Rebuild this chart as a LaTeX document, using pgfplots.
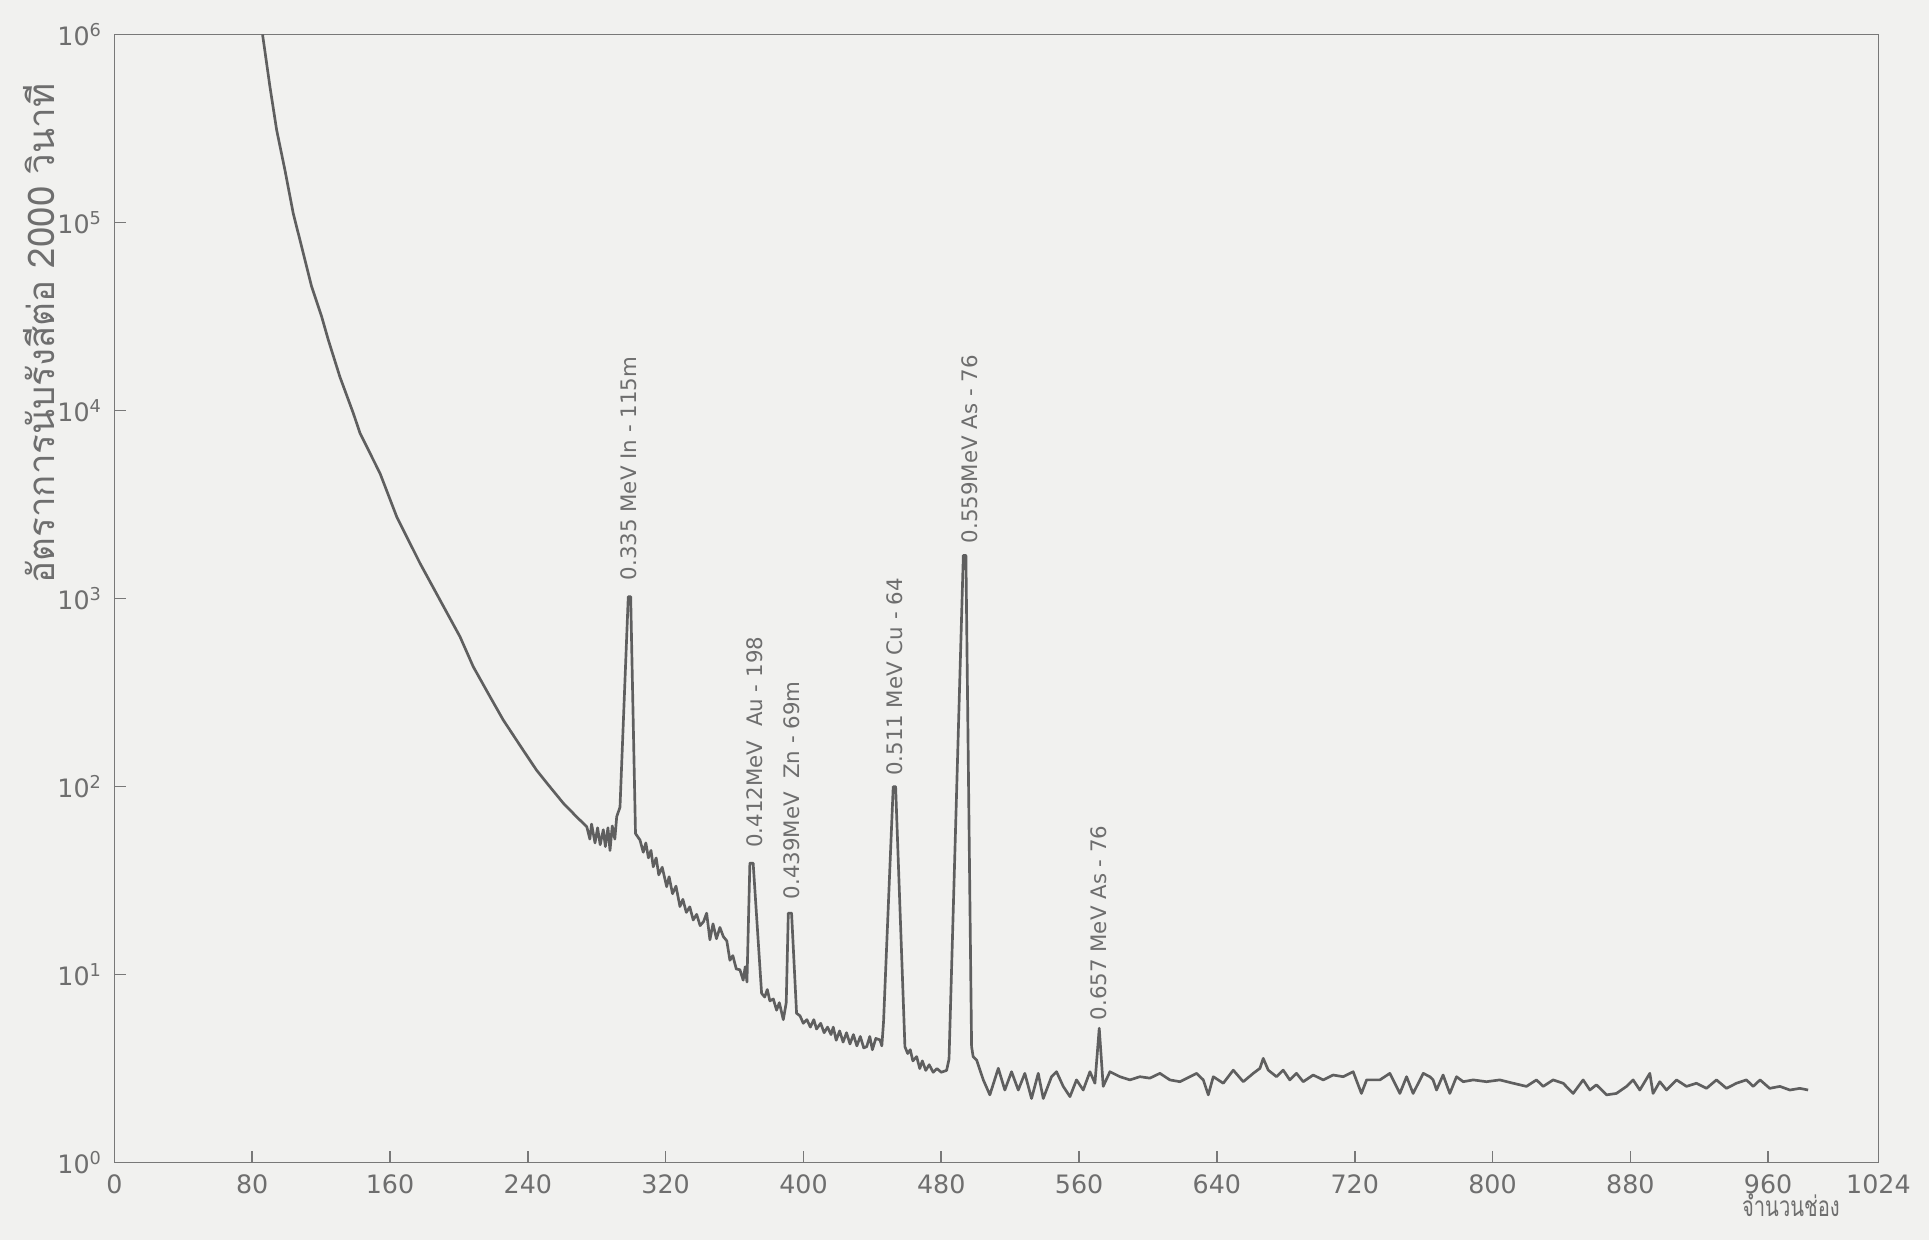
\documentclass[border=0pt]{standalone}
\usepackage{pgfplots}
\pgfplotsset{compat=1.18}
\usepackage{pgfplotstable}
\usepackage{graphicx}
\usepackage{fontspec}
\setmainfont{DejaVu Sans}
\newfontfamily\thaifont[Script=Thai]{Loma}
\definecolor{paper}{RGB}{241,241,239}
\definecolor{ink}{RGB}{95,95,95}
\definecolor{axisink}{RGB}{120,120,120}
\definecolor{textink}{RGB}{110,110,110}

\pgfplotstableread{
ch cnt
86 1000000
90.3 527000
94.2 310000
99.0 190000
103.8 112000
108.7 74300
114.5 45600
120.3 31600
124.2 23700
130.9 15100
138.7 9660
142.6 7570
154.2 4630
163.9 2720
177.4 1540
189.0 982
200.6 627
208.3 434
218.0 301
225.7 226
237.3 156
245.1 122
251.9 102
260.6 81.5
268.3 69.0
274.2 61.1
276 52.5
277 63.1
279 50.1
280.5 60.3
282 49.0
283.8 58.9
285 47.9
286.5 60.3
287.7 45.7
289 61.7
290.5 52.5
291.6 69.2
293.5 77.6
298.3 1023
299.7 1023
302.5 56.2
305.1 51.9
307 44.7
308.5 50.1
310 41.7
311.5 45.7
312.8 37.4
314.5 41.7
316 33.9
318 37.2
320.6 29.3
322 33.1
324 26.9
326 29.5
328.3 23.0
330 25.1
332 21.4
334 22.9
336 19.5
338 20.9
340 18.2
342 19.1
343.8 21.2
345.7 15.3
347.5 18.6
349.5 15.5
351.5 17.8
353.5 15.9
355.5 15.1
357.3 11.9
359 12.6
361 10.7
363.1 10.6
365 9.33
366.2 11.0
367.2 9.12
368.9 39.1
370.8 39.1
375.7 7.94
377.5 7.59
379 8.32
380.5 7.24
382.5 7.41
384.4 6.46
386 7.08
388.3 5.75
390 7.08
391.2 21.2
393.1 21.2
396.0 6.22
398 6.03
399.9 5.50
402 5.75
404 5.25
406 5.75
407.6 5.13
410 5.50
412 4.90
414 5.25
416 4.79
417.3 5.25
419 4.47
421 5.01
423 4.37
425 4.90
427 4.27
429 4.79
431 4.17
433 4.68
435 4.07
436.7 4.13
438.5 4.68
440 3.98
442 4.57
444.4 4.49
445.5 4.17
446.5 5.62
452.1 99.8
453.5 99.8
458.9 4.13
460.5 3.80
462 3.98
463.5 3.47
465.7 3.66
467.5 3.16
469 3.47
471 3.09
473 3.31
475.3 3.02
477.5 3.16
480 3.02
483.1 3.09
484.5 3.55
492.8 1694
494.3 1694
497.6 4.13
498.5 3.66
500.5 3.51
504.4 2.75
508.2 2.29
513.1 3.17
516.9 2.43
520.8 3.04
524.7 2.43
528.5 2.98
532.4 2.19
536.3 2.98
539.2 2.19
544.0 2.86
546.9 3.04
550.8 2.54
554.7 2.24
558.5 2.75
562.4 2.43
566.3 3.04
569.2 2.64
571.7 5.18
574.0 2.54
577.9 3.04
583.7 2.86
589.5 2.75
595.3 2.86
601.1 2.81
606.9 2.98
612.7 2.75
618.5 2.69
624.3 2.86
628.2 2.98
632.1 2.75
635.0 2.29
637.9 2.86
643.7 2.64
649.5 3.10
655.3 2.69
661.1 2.98
665.0 3.17
666.9 3.58
669.8 3.10
674.6 2.86
678.5 3.10
682.3 2.75
686.2 2.98
690.1 2.69
695.9 2.92
701.7 2.75
707.5 2.92
713.3 2.86
719.1 3.04
723.9 2.33
726.9 2.75
734.6 2.75
740.4 2.98
746.2 2.33
750.1 2.86
753.9 2.33
759.8 2.98
763.6 2.86
765.5 2.75
767.5 2.43
771.3 2.92
775.2 2.33
779.1 2.86
783.0 2.69
788.8 2.75
796.5 2.69
804.2 2.75
812.0 2.64
819.7 2.54
825.5 2.75
829.4 2.54
835.2 2.75
841.0 2.64
846.8 2.33
852.6 2.75
856.5 2.43
860.3 2.59
866.2 2.29
871.9 2.33
877.8 2.54
881.6 2.75
885.5 2.43
891.3 2.98
893.2 2.33
897.1 2.69
901.0 2.43
906.8 2.75
912.6 2.54
918.4 2.64
924.2 2.48
930.0 2.75
935.8 2.48
941.6 2.64
947.4 2.75
951.3 2.54
955.3 2.75
960.9 2.48
966.8 2.54
972.6 2.43
978.4 2.48
983.2 2.43
}\spectrum

\begin{document}
\begin{tikzpicture}
\path[use as bounding box, fill=paper] (-34.32pt,-23.25pt) rectangle (544.38pt,348.75pt);
\begin{axis}[
  at={(0,0)}, anchor=south west,
  width=529.2pt, height=338.4pt, scale only axis,
  ymode=log,
  xmin=0, xmax=1024, ymin=1, ymax=1000000,
  xtick={0,80,160,240,320,400,480,560,640,720,800,880,960,1024},
  xticklabels={0,80,160,240,320,400,480,560,640,720,800,880,960,1024},
  ytick={1,10,100,1000,10000,100000,1000000},
  yticklabels={10\textsuperscript{0},10\textsuperscript{1},10\textsuperscript{2},10\textsuperscript{3},10\textsuperscript{4},10\textsuperscript{5},10\textsuperscript{6}},
  yminorticks=false, xminorticks=false,
  tick pos=left,
  major tick length=3.4pt,
  ticklabel style={font=\fontsize{7.6}{8}\selectfont, text=textink},
  axis line style={axisink, line width=0.5pt},
  tick style={axisink, line width=0.5pt},
  xlabel={\scalebox{0.72}[1]{\thaifont จำนวนช่อง}},
  xlabel style={at={(axis description cs:0.9504,-0.0377)}, anchor=center, font=\fontsize{8.4}{10}\selectfont, text=textink},
  ylabel={\thaifont อัตราการนับรังสีต่อ 2000 วินาที},
  ylabel style={at={(axis description cs:-0.0427,0.735)}, anchor=center, font=\fontsize{11}{13}\selectfont, text=textink},
]
\addplot[ink, line width=0.8pt, line join=round, no markers] table[x=ch, y=cnt] {\spectrum};
\begin{scope}[every node/.style={rotate=90, anchor=west, inner sep=0pt, font=\fontsize{6.4}{7}\selectfont, text=textink}]
\node at (axis cs:298.7,1240) {0.335 MeV In - 115m};
\node at (axis cs:371.9,46.9) {0.412MeV\ \ Au - 198};
\node at (axis cs:393.1,24.9) {0.439MeV\ \ Zn - 69m};
\node at (axis cs:453.1,113) {0.511 MeV Cu - 64};
\node at (axis cs:496.6,1950) {0.559MeV As - 76};
\node at (axis cs:571.3,5.66) {0.657 MeV As - 76};
\end{scope}
\end{axis}
\end{tikzpicture}
\end{document}
